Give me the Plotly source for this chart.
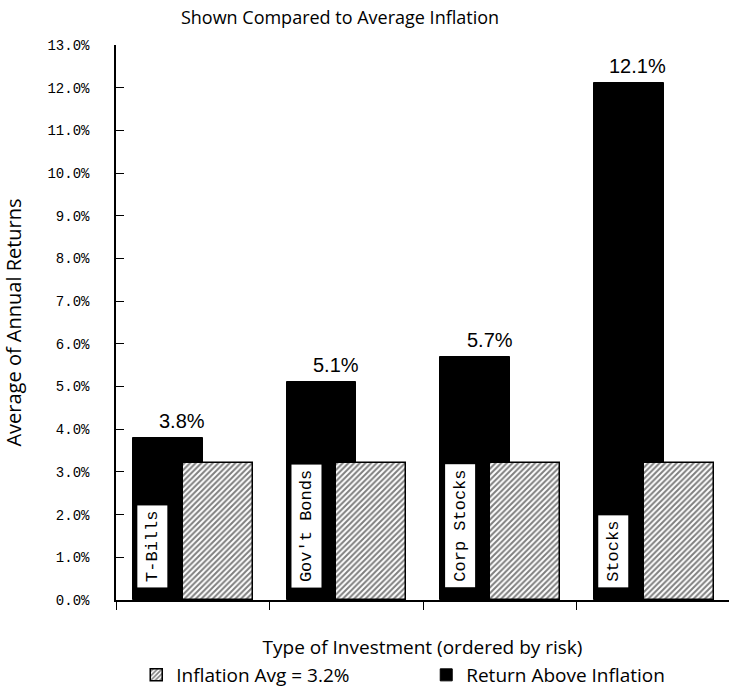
import plotly.graph_objects as go

# Average annual returns by investment type, with the inflation average beside each
categories = ["T-Bills", "Gov't Bonds", "Corp Stocks", "Stocks"]
avg_returns = [3.8, 5.1, 5.7, 12.1]
inflation_avg = [3.2, 3.2, 3.2, 3.2]
y_tick_values = list(range(0, 14))
y_tick_labels = [f"{v:.1f}%" for v in y_tick_values]

title_font = "Open Sans"
mono_font = "Liberation Mono"

BAR_W = 0.455
RET_OFFSET = -0.39
INF_OFFSET = -0.065

fig = go.Figure()

fig.add_bar(
    x=categories,
    y=avg_returns,
    name="Return Above Inflation",
    width=BAR_W,
    offset=RET_OFFSET,
    marker=dict(color="black", line=dict(color="black", width=1)),
)
fig.add_bar(
    x=categories,
    y=inflation_avg,
    name="Inflation Avg = 3.2%",
    width=BAR_W,
    offset=INF_OFFSET,
    marker=dict(
        color="white",
        line=dict(color="black", width=1.5),
        pattern=dict(shape="/", fgcolor="black", bgcolor="white", size=4, solidity=0.5),
    ),
)

annotations = []
# value labels over the return bars, right-aligned near the bar's right edge
for i, v in enumerate(avg_returns):
    annotations.append(dict(
        x=i + RET_OFFSET + BAR_W + 0.03, y=v, xref="x", yref="y",
        text=f"{v:.1f}%", showarrow=False,
        xanchor="right", yanchor="bottom", yshift=4,
        font=dict(family="Liberation Sans", size=20, color="black"),
    ))
# category names written upright inside the return bars
for i, name in enumerate(categories):
    annotations.append(dict(
        x=i + RET_OFFSET + 0.026, y=0.28, xref="x", yref="y",
        text=name, showarrow=False, textangle=-90,
        xanchor="left", yanchor="bottom",
        bgcolor="white", borderpad=5,
        font=dict(family=mono_font, size=17, color="black"),
    ))

fig.update_layout(
    width=729,
    height=694,
    margin=dict(l=116, r=0, t=45, b=90),
    paper_bgcolor="white",
    plot_bgcolor="white",
    barmode="overlay",
    bargap=0,
    title=dict(
        text="Shown Compared to Average Inflation",
        x=340 / 729, xref="container", xanchor="center",
        y=1 - 18 / 694, yref="container", yanchor="middle",
        font=dict(family=title_font, size=18, color="black"),
    ),
    xaxis=dict(
        type="category",
        range=[-0.5, 3.49],
        automargin=False,
        showticklabels=False,
        ticks="outside",
        tickson="boundaries",
        ticklen=8,
        tickcolor="black",
        showline=True,
        linecolor="black",
        linewidth=1.5,
        showgrid=False,
        title=dict(
            text="Type of Investment (ordered by risk)",
            font=dict(family=title_font, size=19, color="black"),
            standoff=40,
        ),
    ),
    yaxis=dict(
        range=[0, 13],
        tickvals=y_tick_values,
        ticktext=y_tick_labels,
        automargin=False,
        ticks="inside",
        ticklen=8,
        tickcolor="black",
        tickfont=dict(family=mono_font, size=14, color="black"),
        ticklabelstandoff=22,
        showline=True,
        linecolor="black",
        linewidth=1.5,
        showgrid=False,
        zeroline=False,
        title=dict(
            text="Average of Annual Returns",
            font=dict(family=title_font, size=20, color="black"),
            standoff=22,
        ),
    ),
    legend=dict(
        orientation="h",
        traceorder="reversed",
        x=0.033, y=-0.136, xanchor="left", yanchor="middle",
        entrywidth=245,
        entrywidthmode="pixels",
        font=dict(family=title_font, size=19, color="black"),
        bgcolor="rgba(0,0,0,0)",
    ),
    annotations=annotations,
)

fig.write_html("out.html")
